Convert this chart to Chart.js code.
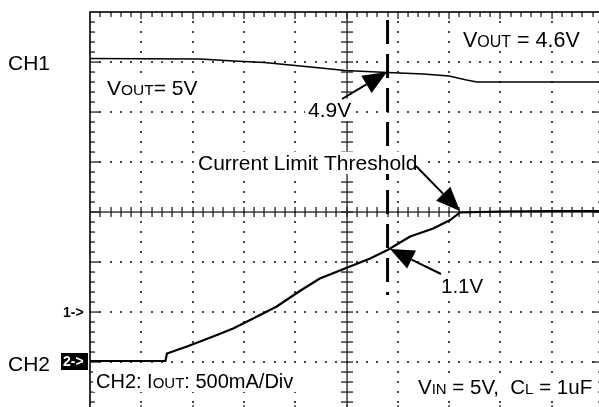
<!DOCTYPE html>
<html>
<head>
<meta charset="utf-8">
<script src="https://cdn.jsdelivr.net/npm/chart.js@4/dist/chart.umd.min.js"></script>
<style>
  html, body { margin: 0; padding: 0; background: #fff; overflow: hidden; width: 599px; height: 407px; }
  #wrap { position: absolute; left: 0; top: 0; width: 610px; height: 420px; }
</style>
</head>
<body>
<div id="wrap"><canvas id="scope" width="610" height="420"></canvas></div>
<script>
// screen in divisions: 10 across, 8 high (0 = bottom)
var ch1Time = [0, 2.14, 2.8, 3.4, 4.0, 4.5, 4.97, 5.8, 6.5, 7.0, 7.34, 7.54, 10];
var ch1Div  = [7.07, 7.06, 7.02, 6.99, 6.93, 6.88, 6.83, 6.79, 6.76, 6.72, 6.64, 6.6, 6.6];

var ch2Time = [0, 1.47, 1.5, 1.89, 2.4, 2.79, 3.18, 3.64, 4.09, 4.48, 4.97, 5.46, 5.8, 6.24, 6.69, 7.02, 7.21, 8, 9, 10];
var ch2Div  = [1.02, 1.02, 1.17, 1.31, 1.51, 1.67, 1.87, 2.11, 2.42, 2.67, 2.87, 3.07, 3.24, 3.51, 3.67, 3.84, 3.99, 4.01, 4.02, 4.02];

var cursorTime = [5.8, 5.8];
var cursorDiv  = [7.84, 2.34];

function pts(xs, ys) {
  var out = [];
  for (var i = 0; i < xs.length; i++) out.push({x: xs[i], y: ys[i]});
  return out;
}

var font = '"Liberation Sans", Arial, sans-serif';

// draws text pieces one after another, each piece [text, size]; optional white box behind
function runText(ctx, x, y, pieces, box) {
  ctx.textBaseline = 'alphabetic';
  ctx.textAlign = 'left';
  var w = 0, big = 0;
  for (var i = 0; i < pieces.length; i++) {
    ctx.font = pieces[i][1] + 'px ' + font;
    w += ctx.measureText(pieces[i][0]).width;
    big = Math.max(big, pieces[i][1]);
  }
  if (box) {
    ctx.fillStyle = '#fff';
    ctx.fillRect(x - 3, y - big * 0.78 - 2, w + 6, big * 0.78 + 6);
  }
  ctx.fillStyle = '#000';
  for (var i = 0; i < pieces.length; i++) {
    ctx.font = pieces[i][1] + 'px ' + font;
    ctx.fillText(pieces[i][0], x, y);
    x += ctx.measureText(pieces[i][0]).width;
  }
}

function arrow(ctx, x1, y1, x2, y2, head, half) {
  var a = Math.atan2(y2 - y1, x2 - x1);
  var bx = x2 - head * Math.cos(a), by = y2 - head * Math.sin(a);
  ctx.strokeStyle = '#000';
  ctx.lineWidth = 2;
  ctx.beginPath();
  ctx.moveTo(x1, y1);
  ctx.lineTo(bx, by);
  ctx.stroke();
  ctx.fillStyle = '#000';
  ctx.beginPath();
  ctx.moveTo(x2, y2);
  ctx.lineTo(bx + half * Math.sin(a), by - half * Math.cos(a));
  ctx.lineTo(bx - half * Math.sin(a), by + half * Math.cos(a));
  ctx.closePath();
  ctx.fill();
}

var graticule = {
  id: 'graticule',
  beforeDatasetsDraw: function (chart) {
    var ctx = chart.ctx, xs = chart.scales.x, ys = chart.scales.y;
    var X = function (u) { return Math.round(xs.getPixelForValue(u)); };
    var Y = function (v) { return Math.round(ys.getPixelForValue(v)); };
    var L = X(0), R = X(10), T = Y(8), B = Y(0);
    var cx = X(5), cy = Y(4);
    var i, k, x, y, len;
    ctx.save();
    ctx.fillStyle = '#444';
    // dotted grid lines
    for (i = 1; i < 10; i++) {
      if (i === 5) continue;
      for (k = 1; k < 40; k++) ctx.fillRect(X(i) - 1, Y(k * 0.2) - 1, 2, 2);
    }
    for (i = 1; i < 8; i++) {
      if (i === 4) continue;
      for (k = 1; k < 50; k++) ctx.fillRect(X(k * 0.2) - 1, Y(i) - 1, 2, 2);
    }
    ctx.fillStyle = '#222';
    // frame ticks
    for (k = 1; k < 50; k++) {
      x = X(k * 0.2); len = (k % 5 === 0) ? 7 : 5;
      ctx.fillRect(x - 0.6, T, 1.3, len);
      ctx.fillRect(x - 0.6, B - len, 1.3, len);
    }
    for (k = 1; k < 40; k++) {
      y = Y(k * 0.2); len = (k % 5 === 0) ? 10 : 5;
      ctx.fillRect(L, y - 0.6, len, 1.3);
      ctx.fillRect(R - len, y - 0.6, len, 1.3);
    }
    // centre cross with ticks
    ctx.fillRect(L, cy - 0.6, R - L, 1.3);
    ctx.fillRect(cx - 0.6, T, 1.3, B - T);
    for (k = 1; k < 50; k++) ctx.fillRect(X(k * 0.2) - 0.6, cy - 5, 1.3, 10);
    for (k = 1; k < 40; k++) ctx.fillRect(cx - 6, Y(k * 0.2) - 0.6, 12, 1.3);
    ctx.strokeStyle = '#000';
    ctx.lineWidth = 1.6;
    ctx.strokeRect(L, T, R - L, B - T);
    ctx.restore();
  },
  afterDatasetsDraw: function (chart) {
    var ctx = chart.ctx;
    ctx.save();
    runText(ctx, 8, 70, [['CH1', 21]]);
    runText(ctx, 8, 371, [['CH2', 21]]);
    ctx.font = 'bold 14px ' + font;
    ctx.fillStyle = '#000';
    ctx.fillText('1->', 63, 317);
    ctx.fillRect(61, 353, 27, 17);
    ctx.font = 'bold 14px ' + font;
    ctx.fillStyle = '#fff';
    ctx.fillText('2->', 63, 366);
    runText(ctx, 107, 95, [['V', 21], ['OUT', 15.5], ['= 5V', 21]], true);
    runText(ctx, 463, 47, [['V', 21.5], ['OUT', 16], [' = 4.6V', 21.5]], true);
    runText(ctx, 308, 117, [['4.9V', 21]], true);
    runText(ctx, 198, 170, [['Current Limit Threshold', 21]], true);
    runText(ctx, 441, 293, [['1.1V', 20.5]], true);
    runText(ctx, 96, 388, [['CH2: I', 20], ['OUT', 15], [': 500mA/Div', 20]], true);
    runText(ctx, 418, 394, [['V', 20.5], ['IN', 15], [' = 5V,  C', 20.5], ['L', 15], [' = 1uF', 20.5]], true);
    arrow(ctx, 342, 99, 387, 72, 24, 10);
    arrow(ctx, 416, 166, 460, 211, 24, 10);
    arrow(ctx, 441, 274, 390, 249, 24, 10);
    ctx.restore();
  }
};

new Chart(document.getElementById('scope'), {
  type: 'scatter',
  data: {
    datasets: [
      { data: pts(ch1Time, ch1Div), showLine: true, borderColor: '#000', borderWidth: 1.5, pointRadius: 0 },
      { data: pts(ch2Time, ch2Div), showLine: true, borderColor: '#000', borderWidth: 2.2, pointRadius: 0 },
      { data: pts(cursorTime, cursorDiv), showLine: true, borderColor: '#000', borderWidth: 3, borderDash: [24, 10], pointRadius: 0 }
    ]
  },
  options: {
    responsive: false,
    animation: false,
    layout: { padding: { left: 90, top: 12, right: 7, bottom: 8 } },
    plugins: { legend: { display: false }, tooltip: { enabled: false } },
    scales: {
      x: { type: 'linear', min: 0, max: 10, display: false },
      y: { type: 'linear', min: 0, max: 8, display: false }
    }
  },
  plugins: [graticule]
});
</script>
</body>
</html>
